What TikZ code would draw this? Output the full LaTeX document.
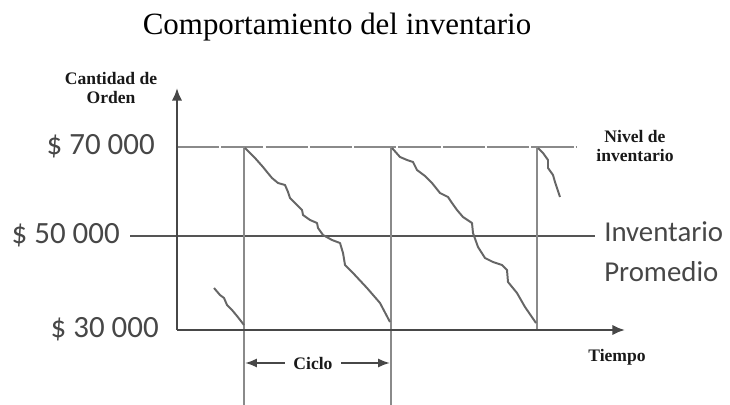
\documentclass[tikz,border=0pt]{standalone}
\usepackage{fontspec}
\setmainfont{Liberation Serif}
\newfontfamily\calibri{Carlito}
\usetikzlibrary{arrows.meta}

\definecolor{axisgray}{HTML}{474747}
\definecolor{linegray}{HTML}{8A8A8A}
\definecolor{meangray}{HTML}{555555}
\definecolor{stockgray}{HTML}{666666}

\tikzset{
  axis/.style={line width=2.1pt,color=axisgray,-{Latex[length=9pt,width=7.5pt]}},
  toplevel/.style={line width=1.4pt,color=linegray,dash pattern=on 30pt off 1.5pt},
  meanlevel/.style={line width=1.4pt,color=meangray},
  cycleline/.style={line width=1.4pt,color=linegray},
  stock/.style={line width=1.4pt,color=stockgray,line join=round},
  money/.style={font=\calibri\fontsize{22}{26}\selectfont,text=axisgray,anchor=east,inner sep=0pt},
  tag/.style={font=\bfseries\fontsize{12.5}{14}\selectfont,text=black!90,align=center,inner sep=1pt},
  span/.style={line width=1.4pt,color=axisgray,-{Latex[length=8.5pt,width=6.5pt]}}
}

\begin{document}
\begin{tikzpicture}[x=0.025cm,y=-0.025cm]
\useasboundingbox (0,0) rectangle (730,405);

% title
\node[font=\fontsize{22}{26}\selectfont] (title) at (337,27) {Comportamiento del inventario};

% axis corners
\coordinate (origin) at (177,330);
\coordinate (ytip) at (177,88);
\coordinate (xtip) at (625,330);

% levels
\draw[toplevel] (177,147) -- (576,147);
\draw[meanlevel] (130,236) -- (595,236);

% order instants
\coordinate (t1) at (244,147);
\coordinate (t2) at (391,147);
\coordinate (t3) at (537,147);
\draw[cycleline] (t1) -- (244,405);
\draw[cycleline] (t2) -- (391,405);
\draw[cycleline] (t3) -- (537,330);

% stock curves
\draw[stock] (214,288) -- (220,295) -- (224,298) -- (227,305) -- (232,310) -- (237,316) -- (244,325);
\draw[stock] (245,148) -- (255,158) -- (263,167) -- (267,172) -- (272,178) -- (278,183) -- (285,185)
  -- (288,192) -- (290,198) -- (297,205) -- (302,210) -- (303,215) -- (310,220) -- (317,223)
  -- (318,228) -- (323,235) -- (332,240) -- (340,243) -- (343,253) -- (345,265) -- (353,273)
  -- (367,288) -- (380,303) -- (390,322);
\draw[stock] (392,148) -- (400,157) -- (407,160) -- (413,162) -- (417,170) -- (425,176) -- (432,183)
  -- (440,193) -- (448,197) -- (452,203) -- (457,210) -- (463,217) -- (472,223) -- (473,233)
  -- (478,247) -- (485,258) -- (493,262) -- (502,265) -- (507,270) -- (508,282) -- (517,293)
  -- (525,307) -- (536,323);
\draw[stock] (538,148) -- (543,153) -- (548,160) -- (548,168) -- (553,175) -- (555,182) -- (560,197);

% axes
\draw[axis] (origin) -- (ytip);
\draw[axis] (origin) -- (xtip);

% value labels
\node[money] (v70) at (155,146) {\$ 70 000};
\node[money] (v50) at (120,235) {\$ 50 000};
\node[money] (v30) at (159,329) {\$ 30 000};

% axis and line labels
\node[tag] (qty) at (111,88) {Cantidad de\\Orden};
\node[tag] (level) at (635,146) {Nivel de\\inventario};
\node[tag] (time) at (617,357) {Tiempo};
\node[font=\calibri\fontsize{20.5}{28.5}\selectfont,text=axisgray,align=left,anchor=west,inner sep=0pt]
  (mean) at (604,252) {Inventario\\Promedio};

% cycle
\node[tag,inner sep=6pt] (cycle) at (313,363) {Ciclo};
\draw[span] (cycle.west) -- (245,363);
\draw[span] (cycle.east) -- (390,363);
\end{tikzpicture}
\end{document}
